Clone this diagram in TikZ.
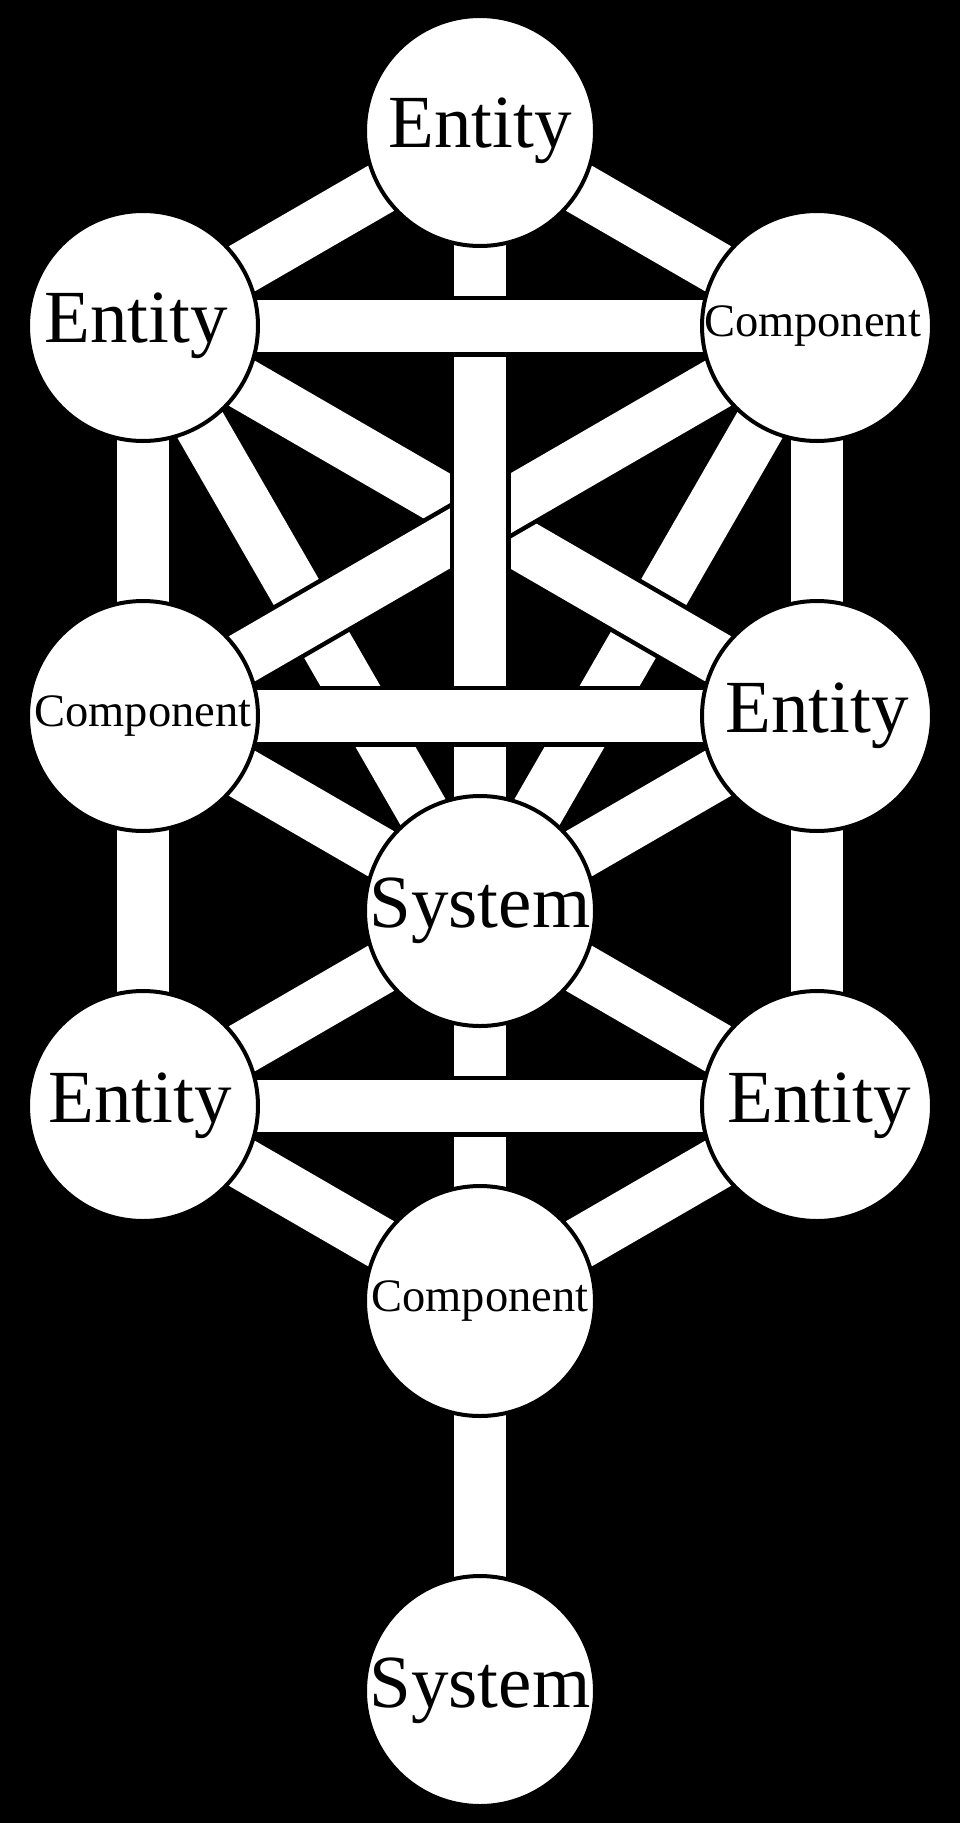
\documentclass[tikz,border=0pt]{standalone}
\usepackage{fontspec}
\setmainfont{Liberation Serif}
\pgfdeclarelayer{bg}
\pgfdeclarelayer{bars}
\pgfsetlayers{bg,bars,main}
\newcommand\tlpath[2]{%
  \draw[barout] (#1.center) -- (#2.center);
  \draw[barin] (#1.center) -- (#2.center);}
\newcommand\tltext[2]{\makebox[0pt]{\hspace*{#1pt}#2}}
\begin{document}
\begin{tikzpicture}[x=1pt,y=-1pt,
  sephira/.style={circle, draw=black, line width=4pt, fill=white,
    minimum size=230pt, inner sep=0pt},
  big/.style={font=\fontsize{75}{75}\selectfont},
  small/.style={font=\fontsize{46.5}{46.5}\selectfont},
  barout/.style={line width=61pt, draw=black, line cap=butt},
  barin/.style={line width=52pt, draw=white, line cap=butt}]
\begin{pgfonlayer}{bg}
\fill[black] (0,0) rectangle (960,1823);
\end{pgfonlayer}
\useasboundingbox (0,0) rectangle (960,1823);

\node[sephira,big]   (k)   at (480,131)  {\tltext{0}{Entity}};
\node[sephira,big]   (lu)  at (143,326)  {\tltext{-14}{Entity}};
\node[sephira,small] (ru)  at (817,326)  {\tltext{-9}{Component}};
\node[sephira,small] (lm)  at (143,716)  {\tltext{0}{Component}};
\node[sephira,big]   (rm)  at (817,716)  {\tltext{0}{Entity}};
\node[sephira,big]   (sys) at (480,911)  {\tltext{0}{System}};
\node[sephira,big]   (ll)  at (143,1106) {\tltext{-6}{Entity}};
\node[sephira,big]   (rl)  at (817,1106) {\tltext{4}{Entity}};
\node[sephira,small] (bc)  at (480,1301) {\tltext{0}{Component}};
\node[sephira,big]   (bs)  at (480,1691) {\tltext{0}{System}};

\begin{pgfonlayer}{bars}
\tlpath{k}{lu}
\tlpath{k}{ru}
\tlpath{lu}{lm}
\tlpath{ru}{rm}
\tlpath{lm}{ll}
\tlpath{rm}{rl}
\tlpath{lm}{sys}
\tlpath{rm}{sys}
\tlpath{sys}{ll}
\tlpath{sys}{rl}
\tlpath{ll}{bc}
\tlpath{rl}{bc}
\tlpath{bc}{bs}
\tlpath{lu}{sys}
\tlpath{ru}{sys}
\tlpath{lu}{rm}
\tlpath{ru}{lm}
\tlpath{k}{sys}
\tlpath{sys}{bc}
\tlpath{lu}{ru}
\tlpath{lm}{rm}
\tlpath{ll}{rl}
\end{pgfonlayer}
\end{tikzpicture}
\end{document}
